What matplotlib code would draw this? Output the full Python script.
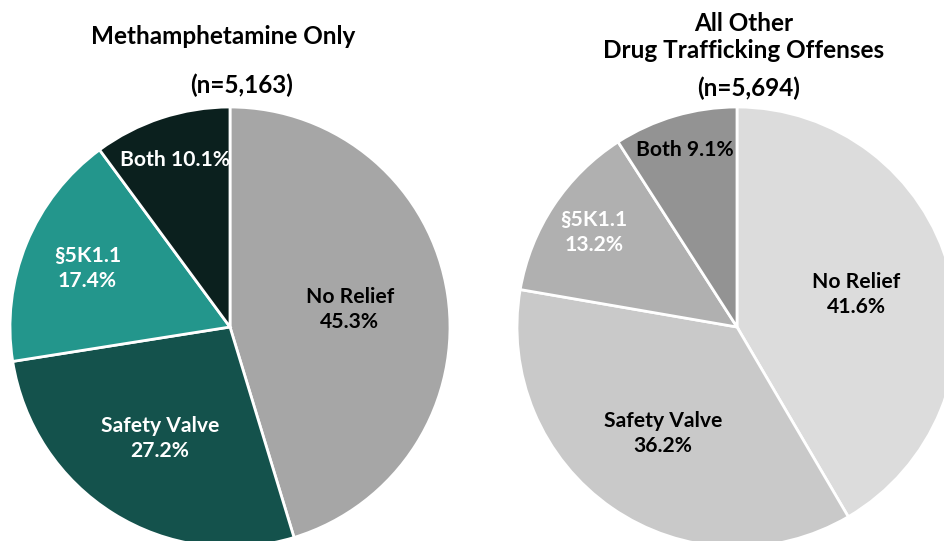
import numpy as np
import matplotlib
matplotlib.use("Agg")
import matplotlib.pyplot as plt

plt.rcParams['font.family'] = ['Lato', 'DejaVu Sans']

categories = ["No Relief", "Safety Valve", "§5K1.1", "Both"]
meth_values = [45.3, 27.2, 17.4, 10.1]
other_values = [41.6, 36.2, 13.2, 9.1]
meth_title = "Methamphetamine Only"
meth_n = "(n=5,163)"
other_title = "All Other\nDrug Trafficking Offenses"
other_n = "(n=5,694)"

meth_colors = ["#a6a6a6", "#14524c", "#23968c", "#0b201e"]
other_colors = ["#dcdcdc", "#c9c9c9", "#b0b0b0", "#939393"]
meth_text = ["black", "white", "white", "white"]
other_text = ["black", "black", "white", "black"]

W, H = 944, 541
fig = plt.figure(figsize=(W / 100, H / 100), dpi=100)

def px_axes(left, bottom, w, h):
    return fig.add_axes([left / W, bottom / H, w / W, h / H])

def draw_pie(ax, values, colors, tcolors, dists):
    wedges, _ = ax.pie(values, colors=colors, startangle=90, counterclock=False,
                       wedgeprops=dict(edgecolor="white", linewidth=2))
    for i, (w, v) in enumerate(zip(wedges, values)):
        ang = np.deg2rad((w.theta1 + w.theta2) / 2)
        r = dists[i]
        if i == 3:
            txt = f"{categories[i]} {v:.1f}%"
        else:
            txt = f"{categories[i]}\n{v:.1f}%"
        ax.text(r * np.cos(ang), r * np.sin(ang), txt, ha="center", va="center",
                fontsize=15.2, fontweight="bold", color=tcolors[i], linespacing=1.32)
    ax.set_xlim(-1, 1)
    ax.set_ylim(-1, 1)
    ax.set_aspect("equal")
    ax.axis("off")

ax1 = px_axes(10, -6, 440, 440)
draw_pie(ax1, meth_values, meth_colors, meth_text, [0.55, 0.6, 0.7, 0.8])
ax2 = px_axes(517, -6, 440, 440)
draw_pie(ax2, other_values, other_colors, other_text, [0.563, 0.59, 0.78, 0.84])

def ftext(x, y, s, **kw):
    fig.text(x / W, 1 - y / H, s, ha="center", va="center", fontsize=17.5,
             fontweight="bold", color="black", **kw)

ftext(223, 37, meth_title)
ftext(242, 85, meth_n)
ftext(744, 37, other_title, linespacing=1.2)
ftext(749, 88, other_n)

fig.savefig("out.png", dpi=100)
